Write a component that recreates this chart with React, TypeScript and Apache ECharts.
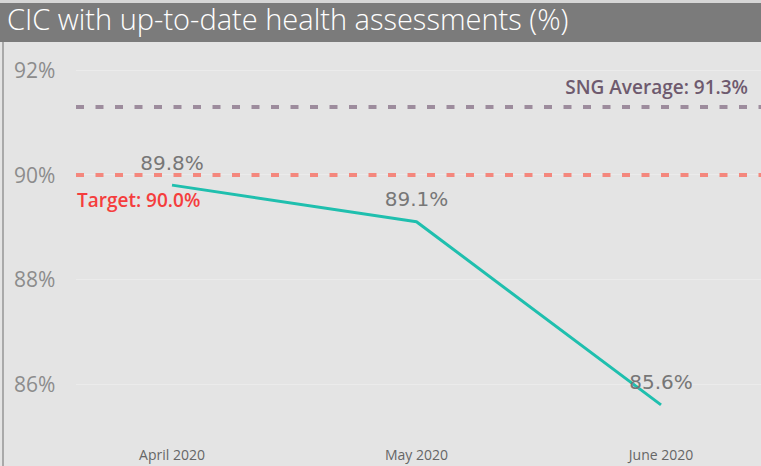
import React, { useEffect, useRef } from "react";
import * as echarts from "echarts";

const titleText = "CIC with up-to-date health assessments (%)";
const months = ["April 2020", "May 2020", "June 2020"];
const rates = [89.8, 89.1, 85.6];
const yTicks = [86, 88, 90, 92];
const targetValue = 90.0;
const sngAverage = 91.3;
const yMin = 85.3;
const yMax = 92.3;

export default function App() {
  const ref = useRef<HTMLDivElement>(null);
  useEffect(() => {
    if (!ref.current) return;
    const chart = echarts.init(ref.current, null, { renderer: "svg" });
    const gridTop = 54.3;
    const gridBottom = 45.4;
    chart.setOption({
      animation: false,
      backgroundColor: "#e4e4e4",
      graphic: [
        { type: "rect", left: 0, top: 0, shape: { width: 761, height: 3 }, style: { fill: "#d6d6d6" }, silent: true },
        { type: "rect", left: 0, top: 3, shape: { width: 761, height: 39 }, style: { fill: "#7b7b7b" }, silent: true },
        { type: "rect", left: 2, top: 42, shape: { width: 2, height: 424 }, style: { fill: "#a9a9a9" }, silent: true },
        {
          type: "text",
          left: 7,
          top: 4,
          style: {
            text: titleText,
            fill: "#ffffff",
            font: '300 29px "Open Sans"',
          },
        },
      ],
      grid: [
        { left: 172, right: 100, top: gridTop, bottom: gridBottom },
        { left: 76, right: 0, top: gridTop, bottom: gridBottom },
      ],
      xAxis: [
        {
          type: "category",
          gridIndex: 0,
          data: months,
          boundaryGap: false,
          axisLine: { show: false },
          axisTick: { show: false },
          axisLabel: { color: "#666666", fontSize: 14, fontFamily: "Open Sans", margin: 27 },
        },
        { type: "value", gridIndex: 1, min: 0, max: 1, show: false },
      ],
      yAxis: [
        { type: "value", gridIndex: 0, min: yMin, max: yMax, show: false },
        {
          type: "value",
          gridIndex: 1,
          min: yMin,
          max: yMax,
          axisLine: { show: false },
          axisTick: { show: false, customValues: yTicks },
          axisLabel: {
            customValues: yTicks,
            formatter: (v: number) => `${v}%`,
            color: "#8c8c8c",
            fontSize: 21,
            fontFamily: "Open Sans",
            align: "left",
            margin: 62,
          },
          splitLine: { show: true, lineStyle: { color: "#ebebeb", width: 1 } },
        },
      ],
      series: [
        {
          type: "line",
          xAxisIndex: 1,
          yAxisIndex: 1,
          data: [],
          silent: true,
          markLine: {
            silent: true,
            symbol: "none",
            data: [
              {
                yAxis: sngAverage,
                lineStyle: { color: "#9d8c9d", type: [8, 11.5], width: 4 },
                label: {
                  position: "insideEndTop",
                  formatter: `SNG Average: ${sngAverage.toFixed(1)}%`,
                  color: "#6e5a6e",
                  fontSize: 19,
                  fontWeight: 600,
                  fontFamily: "Open Sans",
                  distance: [13, 10],
                },
              },
              {
                yAxis: targetValue,
                lineStyle: { color: "#f4877d", type: [8, 11.5], width: 4 },
                label: {
                  position: "insideStartBottom",
                  formatter: `Target: ${targetValue.toFixed(1)}%`,
                  color: "#f53d3d",
                  fontSize: 19,
                  fontWeight: 600,
                  fontFamily: "Open Sans",
                  distance: [1, 16],
                },
              },
            ],
          },
        },
        {
          type: "line",
          xAxisIndex: 0,
          yAxisIndex: 0,
          data: rates,
          showSymbol: true,
          symbol: "circle",
          symbolSize: 1,
          itemStyle: { color: "rgba(0,0,0,0)" },
          lineStyle: { color: "#1fbfae", width: 3 },
          label: {
            show: true,
            position: "top",
            distance: 12,
            formatter: (p: any) => `${Number(p.value).toFixed(1)}%`,
            color: "#777777",
            fontSize: 20,
            fontFamily: "DejaVu Sans",
          },
          z: 5,
        },
      ],
    });
    return () => chart.dispose();
  }, []);
  return (
    <div
      ref={ref}
      style={{ position: "fixed", left: 0, top: 0, width: 761, height: 466 }}
    />
  );
}
